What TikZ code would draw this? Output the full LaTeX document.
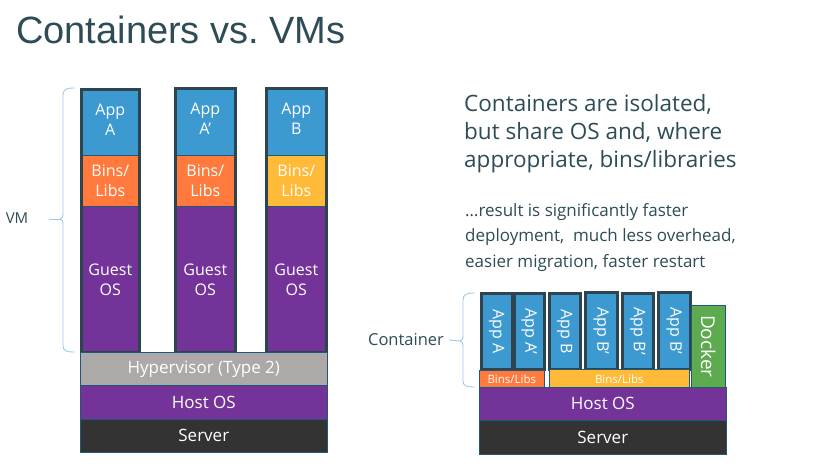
\documentclass[tikz,border=0pt]{standalone}
\usepackage{fontspec}
\setmainfont{Open Sans}
\newfontfamily\titlefont{Liberation Sans}
\definecolor{appblue}{HTML}{3D9AD1}
\definecolor{binorange}{HTML}{FF7A3C}
\definecolor{binyellow}{HTML}{FFBA38}
\definecolor{ospurple}{HTML}{743398}
\definecolor{hypgrey}{HTML}{ADA9A9}
\definecolor{srvdark}{HTML}{333333}
\definecolor{dockgreen}{HTML}{5EAB4F}
\definecolor{edgedark}{HTML}{2E4550}
\definecolor{txtdark}{HTML}{2D4C55}
\definecolor{thinedge}{HTML}{1E5A77}
\definecolor{bracecol}{HTML}{9CCBE3}
\begin{document}
\begin{tikzpicture}[x=1pt,y=-1pt,
  blk/.style={rectangle,inner sep=0pt,anchor=north west,text=white,align=center,
    font=\fontsize{16}{20}\selectfont,draw=thinedge,line width=0.6pt},
  basefont/.style={font=\fontsize{17}{20}\selectfont},
  colframe/.style={draw=edgedark,line width=3pt},
  rot/.style={rotate=-90,text=white,font=\fontsize{16}{18}\selectfont},
  bracestyle/.style={draw=bracecol,line width=0.9pt}]
\useasboundingbox (0,0) rectangle (840,475);
% title
\node[anchor=base west,inner sep=0pt,text=txtdark,font=\titlefont\fontsize{38}{40}\selectfont] (title) at (16,43) {Containers vs.\ VMs};

% ---- VM side ----
% column 1
\node[blk,fill=appblue,minimum width=58,minimum height=66,text depth=6pt] (appA) at (81,89) {App\\A};
\node[blk,fill=binorange,minimum width=58,minimum height=51] (binsA) at (81,155) {Bins/\\Libs};
\node[blk,fill=ospurple,minimum width=58,minimum height=146] (guestA) at (81,206) {Guest\\OS};
\draw[colframe] (appA.north west) rectangle (guestA.south east);
% column 2
\node[blk,fill=appblue,minimum width=60,minimum height=67,text depth=6pt] (appA2) at (175,88) {App\\A'};
\node[blk,fill=binorange,minimum width=60,minimum height=51] (binsA2) at (175,155) {Bins/\\Libs};
\node[blk,fill=ospurple,minimum width=60,minimum height=146] (guestA2) at (175,206) {Guest\\OS};
\draw[colframe] (appA2.north west) rectangle (guestA2.south east);
% column 3
\node[blk,fill=appblue,minimum width=60,minimum height=67,text depth=6pt] (appB) at (266,88) {App\\B};
\node[blk,fill=binyellow,minimum width=60,minimum height=51] (binsB) at (266,155) {Bins/\\Libs};
\node[blk,fill=ospurple,minimum width=60,minimum height=146] (guestB) at (266,206) {Guest\\OS};
\draw[colframe] (appB.north west) rectangle (guestB.south east);
% base layers
\node[blk,basefont,fill=hypgrey,minimum width=247,minimum height=33] (hyp) at (80,352) {Hypervisor (Type 2)};
\node[blk,basefont,fill=ospurple,minimum width=247,minimum height=34] (hostL) at (80,385) {Host OS};
\node[blk,basefont,fill=srvdark,minimum width=247,minimum height=33] (srvL) at (80,419) {Server};

% VM brace
\node[anchor=center,inner sep=0pt,text=txtdark,font=\fontsize{15}{17}\selectfont] (vmlabel) at (17,218) {VM};
\coordinate (vmtip) at (60,219);
\draw[bracestyle] (75,88) .. controls (66,88) and (63,89) .. (63,96) -- (63,213)
   .. controls (63,217) and (62,219) .. (vmtip) .. controls (62,219) and (63,221) .. (63,225)
   -- (63,345) .. controls (63,351) and (66,352) .. (75,352);
\draw[bracestyle] (49,219) -- (vmtip);

% ---- right text ----
\node[anchor=north west,inner sep=0pt,align=left,text=txtdark,font=\fontsize{22.5}{28}\selectfont] (claim) at (464,94)
  {Containers are isolated,\\but share OS and, where\\appropriate, bins/libraries};
\node[anchor=north west,inner sep=0pt,align=left,text=txtdark,font=\fontsize{17}{25.5}\selectfont] (result) at (465,203)
  {…result is significantly faster\\deployment,\ \ much less overhead,\\easier migration, faster restart};

% ---- container side ----
\node[blk,fill=appblue,minimum width=31,minimum height=76] (cA) at (481,293) {};
\node[blk,fill=appblue,minimum width=30,minimum height=76] (cA2) at (514,293) {};
\node[blk,fill=appblue,minimum width=31,minimum height=76] (cB) at (549,293) {};
\node[blk,fill=appblue,minimum width=32,minimum height=77] (cB1) at (585,292) {};
\node[blk,fill=appblue,minimum width=31,minimum height=76] (cB2) at (622,293) {};
\node[blk,fill=appblue,minimum width=32,minimum height=77] (cB3) at (658,292) {};
\foreach \n in {cA,cA2,cB,cB1,cB2,cB3} {\draw[colframe] (\n.north west) rectangle (\n.south east);}
\node[rot] at (cA.center) {App A};
\node[rot] at (cA2.center) {App A'};
\node[rot] at (cB.center) {App B};
\node[rot] at (cB1.center) {App B'};
\node[rot] at (cB2.center) {App B'};
\node[rot] at (cB3.center) {App B'};
\node[blk,fill=dockgreen,minimum width=34,minimum height=82] (dock) at (691,305) {};
\node[rot,font=\fontsize{19}{20}\selectfont] at (dock.center) {Docker};
\node[blk,fill=binorange,minimum width=65,minimum height=18,font=\fontsize{11.5}{13}\selectfont] (cbinsA) at (479,370) {Bins/Libs};
\node[blk,fill=binyellow,minimum width=140,minimum height=20,font=\fontsize{11.5}{13}\selectfont] (cbinsB) at (549,369) {Bins/Libs};
\node[blk,basefont,fill=ospurple,minimum width=247,minimum height=33] (hostR) at (479,387) {Host OS};
\node[blk,basefont,fill=srvdark,minimum width=247,minimum height=34] (srvR) at (479,420) {Server};

% container brace
\node[anchor=center,inner sep=0pt,text=txtdark,font=\fontsize{16.5}{18}\selectfont] (clabel) at (406,340) {Container};
\coordinate (ctip) at (460,341);
\draw[bracestyle] (475,293) .. controls (467,293) and (463,294) .. (463,300) -- (463,335)
   .. controls (463,339) and (462,341) .. (ctip) .. controls (462,341) and (463,343) .. (463,347)
   -- (463,381) .. controls (463,386) and (467,387) .. (475,387);
\draw[bracestyle] (clabel.east) ++(5,0) -- (ctip);
\end{tikzpicture}
\end{document}
